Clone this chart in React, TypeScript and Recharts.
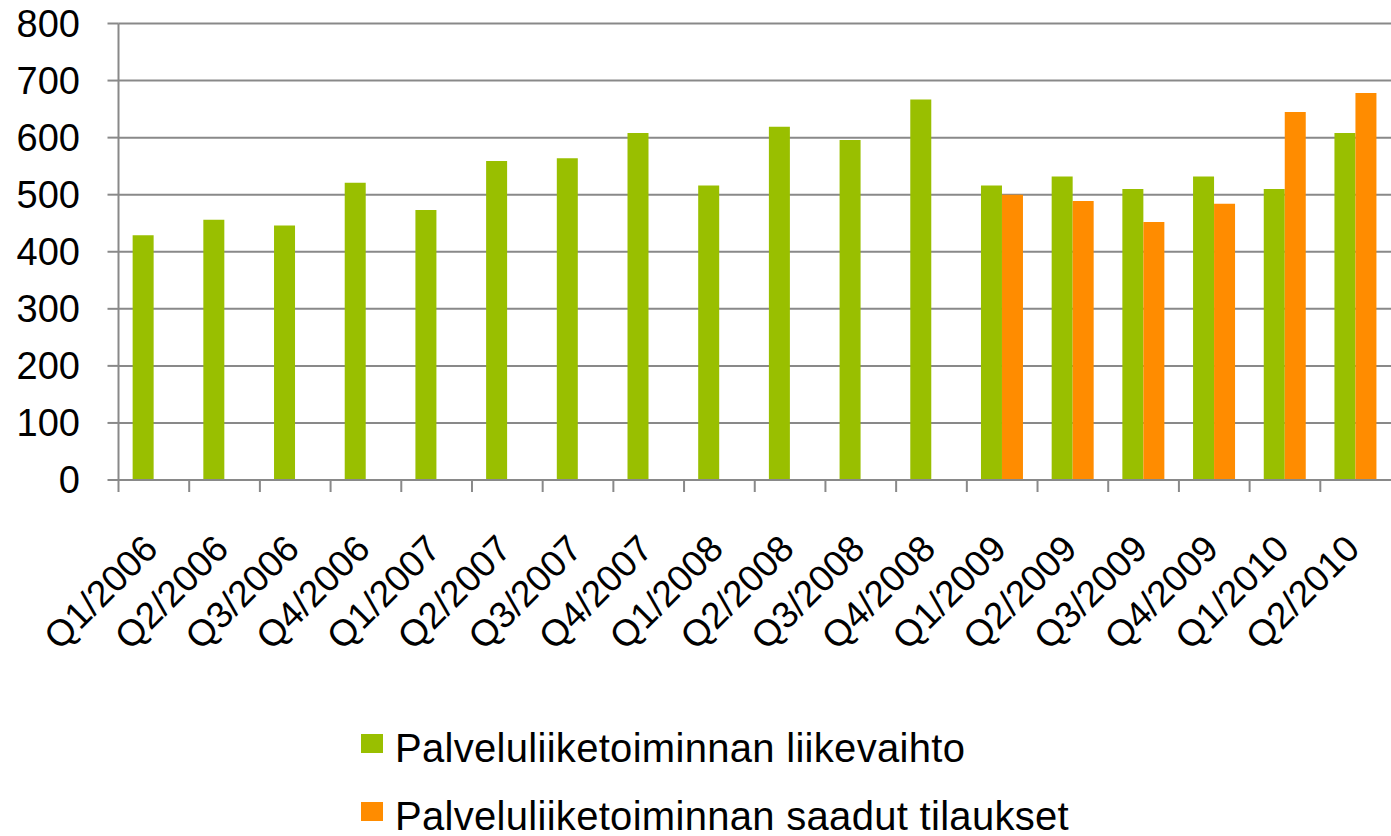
import React from 'react';
import { BarChart, Bar, XAxis, YAxis, CartesianGrid, Legend } from 'recharts';

const quarters = [
  'Q1/2006', 'Q2/2006', 'Q3/2006', 'Q4/2006',
  'Q1/2007', 'Q2/2007', 'Q3/2007', 'Q4/2007',
  'Q1/2008', 'Q2/2008', 'Q3/2008', 'Q4/2008',
  'Q1/2009', 'Q2/2009', 'Q3/2009', 'Q4/2009',
  'Q1/2010', 'Q2/2010',
];

// Palveluliiketoiminnan liikevaihto
const revenue = [429, 456, 446, 521, 473, 559, 564, 608, 516, 619, 596, 667, 516, 532, 510, 532, 510, 608];
// Palveluliiketoiminnan saadut tilaukset (reported from 2009 on)
const orders: (number | null)[] = [
  null, null, null, null, null, null, null, null, null, null, null, null,
  500, 489, 452, 484, 645, 678,
];

const yTicks = [0, 100, 200, 300, 400, 500, 600, 700, 800];

const seriesNames = ['Palveluliiketoiminnan liikevaihto', 'Palveluliiketoiminnan saadut tilaukset'];
const seriesColors = ['#99bf00', '#ff8c00'];

const data = quarters.map((q, i) => ({ quarter: q, revenue: revenue[i], orders: orders[i] }));

const FONT = '"Liberation Sans", Arial, sans-serif';
const GRID = '#898989';

const QuarterTick = (props: any) => {
  const { x, y, payload } = props;
  const half = payload?.offset ?? 0;
  return (
    <g>
      {/* Excel style tick marks sit between categories */}
      <line x1={x - half} x2={x - half} y1={y} y2={y + 12} stroke={GRID} strokeWidth={2} />
      <text
        transform={`translate(${x + 6},${y + 71}) rotate(-45)`}
        textAnchor="end"
        fontSize={37}
        fontFamily={FONT}
        fill="#000"
      >
        {payload.value}
      </text>
    </g>
  );
};

const LegendBox = () => (
  <div style={{ position: 'relative', fontFamily: FONT }}>
    {seriesNames.map((name, i) => (
      <div key={name}>
        <div
          style={{
            position: 'absolute',
            left: 361,
            top: 734 + i * 68,
            width: 22,
            height: 19,
            background: seriesColors[i],
          }}
        />
        <div
          style={{
            position: 'absolute',
            left: 395,
            top: 728 + i * 68,
            fontSize: 40,
            lineHeight: '40px',
            letterSpacing: 0.3,
            whiteSpace: 'nowrap',
            color: '#000',
          }}
        >
          {name}
        </div>
      </div>
    ))}
  </div>
);

export default function App() {
  return (
    <div style={{ position: 'absolute', left: 0, top: 0, width: 1391, height: 836, background: '#fff' }}>
      <BarChart
        width={1391}
        height={836}
        data={data}
        margin={{ top: 23.5, right: 0, bottom: 0, left: 0 }}
        barCategoryGap="20%"
        barGap={0}
      >
        <CartesianGrid vertical={false} stroke={GRID} strokeWidth={2} />
        <XAxis
          dataKey="quarter"
          height={356}
          interval={0}
          tickLine={false}
          tickSize={0}
          tickMargin={0}
          axisLine={{ stroke: GRID, strokeWidth: 2 }}
          tick={<QuarterTick />}
        />
        <YAxis
          width={118.5}
          domain={[0, 800]}
          ticks={yTicks}
          interval={0}
          tickSize={11}
          tickMargin={27.5}
          axisLine={{ stroke: GRID, strokeWidth: 2 }}
          tickLine={{ stroke: GRID, strokeWidth: 2 }}
          tick={{ fill: '#000', fontSize: 38, fontFamily: FONT }}
        />
        <Legend
          layout="vertical"
          verticalAlign="middle"
          align="center"
          wrapperStyle={{ top: 0, left: 0, width: 0, height: 0 }}
          content={() => <LegendBox />}
        />
        <Bar dataKey="revenue" name={seriesNames[0]} fill={seriesColors[0]} isAnimationActive={false} />
        <Bar dataKey="orders" name={seriesNames[1]} fill={seriesColors[1]} isAnimationActive={false} />
      </BarChart>
    </div>
  );
}
